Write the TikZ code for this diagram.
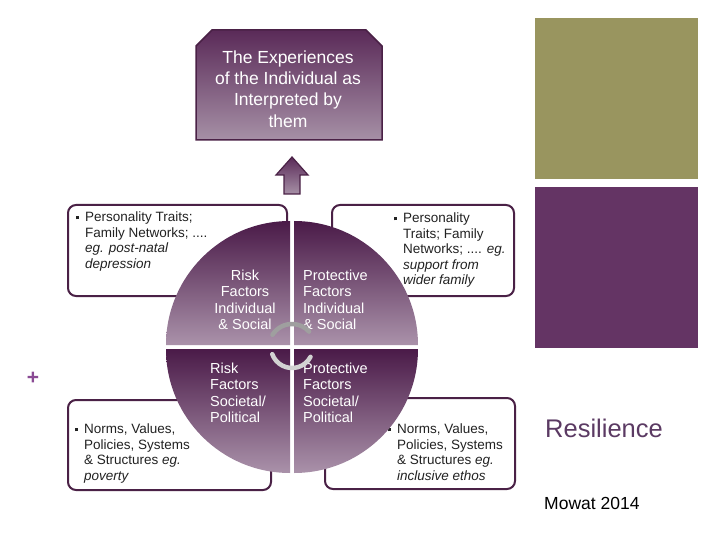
\documentclass[tikz,border=0pt]{standalone}
\usepackage{fontspec}
\setmainfont{Liberation Sans}
\usetikzlibrary{arrows.meta}
\definecolor{bd}{HTML}{4A2146}
\definecolor{qdark}{HTML}{4A1A48}
\definecolor{qlight}{HTML}{AA92AA}
\definecolor{tbdark}{HTML}{5A2A58}
\definecolor{tblight}{HTML}{A690A6}
\definecolor{olivebox}{HTML}{99955F}
\definecolor{purpbox}{HTML}{643464}
\definecolor{txt}{HTML}{222222}
\definecolor{resil}{HTML}{5B3A63}
\definecolor{plusc}{HTML}{8A4A94}
\newcommand\sqb{\llap{\raisebox{2.6pt}{\rule{3pt}{3pt}}\hspace{6pt}}}
\tikzset{
  boxframe/.style={draw=bd, line width=2pt, rounded corners=8pt, fill=white},
  boxtxt/.style={anchor=north west, inner sep=0pt, align=left, text=txt,
     font=\fontsize{13.5}{15.4}\selectfont},
  quad/.style={top color=qdark, bottom color=qlight},
  quadtxt/.style={inner sep=0pt, text=white, font=\fontsize{14.5}{16.5}\selectfont},
  cyc/.style={line width=4.5pt, line cap=round}
}
\begin{document}
\begin{tikzpicture}[x=1pt,y=-1pt]
\useasboundingbox (0,0) rectangle (720,540);
\fill[white] (0,0) rectangle (720,540);
% right panels
\fill[olivebox] (535,18) rectangle (698,179);
\fill[purpbox] (535,187) rectangle (698,348);
% top box
\path[draw=bd, line width=1.5pt, top color=tbdark, bottom color=tblight]
  (196,140) -- (196,46) -- (212,30) -- (366,30) -- (382,46) -- (382,140) -- cycle;
\node[anchor=north, inner sep=0pt, align=center, text=white,
  font=\fontsize{17.5}{21.3}\selectfont] (exp) at (288,50.5)
  {The Experiences\\of the Individual as\\Interpreted by\\them};
% up arrow
\path[draw=bd, line width=1.2pt, top color=tbdark, bottom color=tblight]
  (292,157) -- (308,175) -- (300,175) -- (300,194) -- (284,194) -- (284,175) -- (276,175) -- cycle;
% side boxes
\draw[boxframe] (68,205) rectangle (287,296);
\draw[boxframe] (332,205) rectangle (514,296);
\draw[boxframe] (68,400) rectangle (271,490);
\draw[boxframe] (325,398) rectangle (515,489);
\node[boxtxt] (tl) at (85,212)
  {\sqb Personality Traits;\\Family Networks; ....\\\textit{eg. post-natal}\\\textit{depression}};
\node[boxtxt] (tr) at (403,213)
  {\sqb Personality\\Traits; Family\\Networks; .... \textit{eg.}\\\textit{support from}\\\textit{wider family}};
\node[boxtxt] (bl) at (84,424)
  {\sqb Norms, Values,\\Policies, Systems\\\& Structures \textit{eg.}\\\textit{poverty}};
\node[boxtxt] (br) at (397,424)
  {\sqb Norms, Values,\\Policies, Systems\\\& Structures \textit{eg.}\\\textit{inclusive ethos}};
% quadrants
\path[quad] (290,345) -- (166,345) arc[start angle=180, end angle=270, radius=124] -- cycle;
\path[quad] (294,345) -- (294,221) arc[start angle=270, end angle=360, radius=124] -- cycle;
\path[quad] (290,349) -- (166,349) arc[start angle=180, end angle=90, radius=124] -- cycle;
\path[quad] (294,349) -- (418,349) arc[start angle=0, end angle=90, radius=124] -- cycle;
\node[quadtxt, anchor=north, align=center] (rind) at (245,269.5) {Risk\\Factors\\Individual\\\& Social};
\node[quadtxt, anchor=north west, align=left] (pind) at (303,269.5) {Protective\\Factors\\Individual\\\& Social};
\node[quadtxt, anchor=north west, align=left] (rsoc) at (210,362.5) {Risk\\Factors\\Societal/\\Political};
\node[quadtxt, anchor=north west, align=left] (psoc) at (303,362.5) {Protective\\Factors\\Societal/\\Political};
% central cycle arcs
\coordinate (cc) at (292,347);
\draw[cyc, color=gray!75] ([shift={(212:23)}]cc) arc[start angle=212, end angle=318, radius=23];
\draw[cyc, color=gray!35] ([shift={(28:21)}]cc) arc[start angle=28, end angle=160, radius=21];
% plus sign
\node[inner sep=0pt, text=plusc, font=\bfseries\fontsize{21}{21}\selectfont] (plus) at (33,378) {+};
% titles
\node[anchor=base west, inner sep=0pt, text=resil, font=\fontsize{25.5}{28}\selectfont] (res) at (545,437) {Resilience};
\node[anchor=base west, inner sep=0pt, text=black, font=\fontsize{17.5}{20}\selectfont] (mow) at (544,509.5) {Mowat 2014};
\end{tikzpicture}
\end{document}
